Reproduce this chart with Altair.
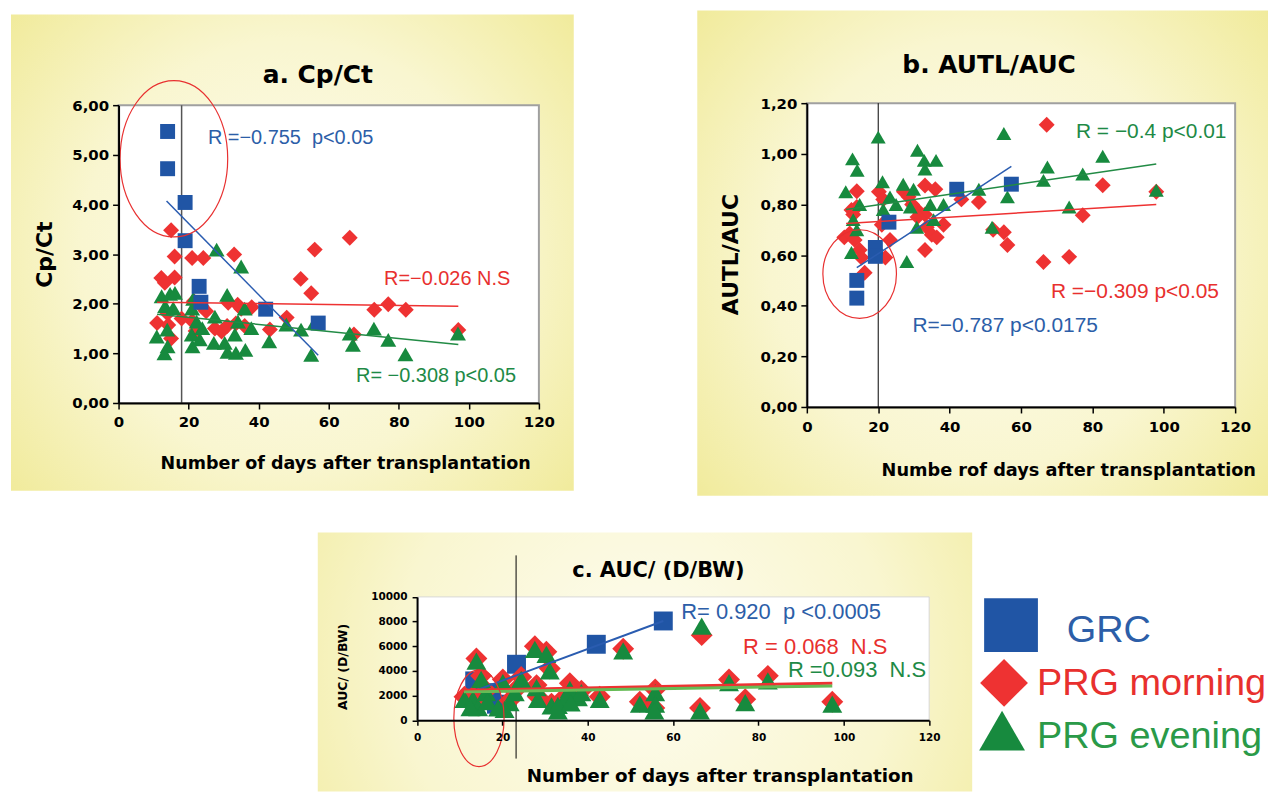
import altair as alt
import pandas as pd

FONT = "Liberation Sans"
BOLD_FONT = "DejaVu Sans"
BLUE, RED, GREEN = "#2055a5", "#ee3232", "#178a3e"
TXT_BLUE, TXT_RED, TXT_GREEN = "#2c5ea8", "#e8302e", "#1e8a46"

x_ticks = [0, 20, 40, 60, 80, 100, 120]
a_y_ticks = [0, 1, 2, 3, 4, 5, 6]
b_y_ticks = [0, 0.2, 0.4, 0.6, 0.8, 1.0, 1.2]
c_y_ticks = [0, 2000, 4000, 6000, 8000, 10000]

# ---------------- a. Cp/Ct ----------------
a_grc_x = [14, 14, 19, 19, 23, 23.5, 42, 57]
a_grc_y = [5.47, 4.72, 4.04, 3.27, 2.35, 2.03, 1.89, 1.61]
a_mor_x = [15, 16, 21, 24.2, 33, 56, 66, 52, 55, 12.2, 13.2, 16, 21.5, 23.7, 11, 14.2, 15, 21, 31.3, 34,
           38, 27.5, 29.4, 31, 33.5, 36, 43.2, 48, 67.2, 73, 77, 82, 97, 22, 25, 35, 18, 14]
a_mor_y = [3.48, 2.95, 2.92, 2.92, 2.99, 3.09, 3.33, 2.5, 2.21, 2.52, 2.42, 2.53, 2.05, 1.95, 1.61, 1.57, 1.3, 1.65, 2.02, 1.98,
           1.93, 1.5, 1.44, 1.55, 1.6, 1.55, 1.48, 1.72, 1.38, 1.88, 1.99, 1.88, 1.47, 1.45, 1.85, 1.9, 1.7, 1.8]
a_eve_x = [28, 35, 12.3, 14.7, 16.1, 21.3, 31, 13.3, 15.6, 21, 36, 10.9, 13.9, 14, 13.1, 20.9, 21.1, 23.2, 23.9, 22.3,
           27.5, 27.2, 30.3, 31.1, 33.5, 36.2, 33.2, 34.1, 37.9, 43, 47.9, 52.1, 55.9, 55, 66, 66.9, 72.9, 77, 81.9, 96.9]
a_eve_y = [3.09, 2.75, 2.15, 2.2, 2.22, 2.1, 2.18, 1.95, 1.91, 1.9, 1.9, 1.34, 1.48, 1.14, 1.0, 1.38, 1.14, 1.28, 1.51, 1.64,
           1.74, 1.21, 1.21, 1.03, 1.01, 1.07, 1.38, 1.64, 1.51, 1.24, 1.58, 1.48, 1.61, 0.97, 1.4, 1.17, 1.5, 1.27, 0.98, 1.4]
a_grc_fit_x, a_grc_fit_y = [13.7, 57], [4.07, 0.96]
a_mor_fit_x, a_mor_fit_y = [11, 97], [2.03, 1.95]
a_eve_fit_x, a_eve_fit_y = [11, 97], [1.79, 1.18]
a_notes = ["R =\u22120.755\u00a0\u00a0p<0.05", "R=\u22120.026 N.S", "R= \u22120.308 p<0.05"]
a_notes_x = [25.5, 75.8, 67.8]
a_notes_y = [5.34, 2.50, 0.54]

# ---------------- b. AUTL/AUC ----------------
b_grc_x = [14, 14, 19.2, 19.2, 23, 42, 57.3]
b_grc_y = [0.50, 0.43, 0.63, 0.595, 0.73, 0.86, 0.88]
b_mor_x = [14, 20.2, 21.4, 27.2, 28.5, 33.1, 36, 12.5, 14, 13, 30.8, 33.1, 21, 10.5, 12, 13.4, 14.8, 15.3, 22, 23.3,
           16.2, 33.6, 35, 36.4, 38.3, 33.1, 43.3, 48.2, 52.2, 55.2, 56.2, 67.2, 82.9, 97.9, 77.3, 66.3, 73.5, 31, 29.5]
b_mor_y = [0.852, 0.85, 0.82, 0.85, 0.83, 0.875, 0.86, 0.778, 0.79, 0.76, 0.78, 0.76, 0.72, 0.67, 0.685, 0.66, 0.62, 0.59, 0.59, 0.66,
           0.53, 0.71, 0.68, 0.67, 0.72, 0.62, 0.82, 0.81, 0.70, 0.69, 0.64, 1.115, 0.876, 0.85, 0.757, 0.573, 0.593, 0.75, 0.8]
b_eve_x = [20, 55.2, 31, 12.8, 14.1, 32.9, 33.1, 36.2, 10.9, 21.2, 23.3, 27, 29.9, 14.8, 34.6, 38.3, 21.4, 29, 13, 14,
           12.5, 28, 30.8, 48.2, 56.2, 51.9, 67.4, 66.3, 77.3, 82.9, 97.9, 73.5, 25, 35.5]
b_eve_y = [1.066, 1.08, 1.014, 0.98, 0.935, 0.974, 0.94, 0.974, 0.85, 0.89, 0.83, 0.88, 0.86, 0.80, 0.80, 0.80, 0.78, 0.79, 0.74, 0.70,
           0.61, 0.575, 0.71, 0.86, 0.83, 0.71, 0.948, 0.895, 0.92, 0.99, 0.856, 0.79, 0.8, 0.74]
b_grc_fit_x, b_grc_fit_y = [14, 57.3], [0.55, 0.95]
b_mor_fit_x, b_mor_fit_y = [11, 97.9], [0.725, 0.80]
b_eve_fit_x, b_eve_fit_y = [11, 97.9], [0.78, 0.96]
b_notes = ["R = \u22120.4 p<0.01", "R =\u22120.309 p<0.05", "R=\u22120.787 p<0.0175"]
b_notes_x = [75.4, 68.4, 29.6]
b_notes_y = [1.086, 0.456, 0.319]

# ---------------- c. AUC/(D/BW) ----------------
c_grc_x = [13.5, 17.4, 18.6, 23.3, 42, 57.7]
c_grc_y = [3190, 2240, 1300, 4540, 6160, 8050]
c_mor_x = [13.9, 15, 11.1, 13.1, 14.3, 16.2, 20.1, 21.7, 22.9, 24.4, 27.6, 30.3, 31.1, 28, 28.3, 31.5, 34.6, 35.8, 37.7, 38.5,
           42.8, 48.3, 52.2, 55.8, 55.6, 66.7, 66.3, 73.1, 76.9, 82.2, 97.3]
c_mor_y = [5000, 3600, 1900, 1900, 1200, 2400, 3300, 1600, 2400, 3500, 6000, 5550, 4200, 2850, 1900, 1350, 1900, 3000, 2000, 2400,
           1900, 5800, 1500, 2500, 1000, 6900, 1000, 3300, 1700, 3600, 1500]
c_eve_x = [13.9, 15, 11.1, 13.1, 14.3, 12.5, 16.2, 20.1, 21.7, 22.9, 20.5, 24.4, 27.6, 30.3, 31.1, 28, 28.3, 31.5, 33, 34.6,
           35.8, 37.7, 38.5, 42.8, 48.3, 52.2, 55.8, 55.8, 55.6, 66.7, 66.3, 73.1, 76.9, 82.2, 97.3, 16.5, 19, 33, 36]
c_eve_y = [4800, 3320, 1700, 1700, 1030, 1030, 2240, 3050, 1430, 2240, 890, 3320, 5750, 5350, 4000, 2650, 1700, 1160, 760, 1700,
           2510, 1840, 2240, 1700, 5620, 1300, 2240, 1300, 760, 7640, 760, 3050, 1430, 3190, 1300, 1500, 1000, 1200, 1400]
c_grc_fit_x, c_grc_fit_y = [13.5, 57.7], [2380, 8050]
c_mor_fit_x, c_mor_fit_y = [11, 97.3], [2430, 3000]
c_eve_fit_x, c_eve_fit_y = [11, 97.3], [2300, 2780]
c_notes = ["R= 0.920\u00a0\u00a0p <0.0005", "R = 0.068\u00a0\u00a0N.S", "R =0.093\u00a0\u00a0N.S"]
c_notes_x = [61.9, 76.4, 86.9]
c_notes_y = [8770, 5940, 4080]

legend_labels = ["GRC", "PRG morning", "PRG evening"]

# ---------------- helpers ----------------
def df(x, y):
    return pd.DataFrame({"x": x, "y": y})


def ellipse_path(r):
    return f"M {-r},0 A {r},1 0 1,0 {r},0 A {r},1 0 1,0 {-r},0 Z"


GRAD = alt.RadialGradient(
    gradient="radial", x1=0.5, y1=0.5, r1=0.0, x2=0.5, y2=0.5, r2=0.75,
    stops=[alt.GradientStop(offset=0, color="#fdfcee"),
           alt.GradientStop(offset=0.5, color="#f9f6d0"),
           alt.GradientStop(offset=1, color="#eee78a")])


def text_at(t, px, py, size, weight="bold", angle=0, color="black", align="center"):
    return alt.Chart(pd.DataFrame({"t": [t]})).mark_text(
        font=BOLD_FONT, fontSize=size, fontWeight=weight, angle=angle, color=color,
        align=align, baseline="middle").encode(x=alt.value(px), y=alt.value(py), text="t:N")


def panel(p):
    W, H = p["size"]
    xs = alt.Scale(domain=[0, 120], range=p["xrange"], nice=False, zero=False)
    ys = alt.Scale(domain=p["ydomain"], range=p["yrange"], nice=False, zero=False)
    common = dict(title=None, grid=False, zindex=2, labelFont=BOLD_FONT, labelFontSize=p["tick_fs"],
                  labelFontWeight="bold", labelColor="black", labelFlush=False, labelOverlap=False,
                  domainColor="black", domainWidth=2, tickColor="black", tickWidth=1.5,
                  tickSize=p["tick_size"])
    ax = alt.Axis(values=x_ticks, offset=p["xoff"], labelPadding=p["xpad"], format="d", **common)
    ay = alt.Axis(values=p["yticks"], offset=p["yoff"], labelPadding=p["ypad"],
                  labelExpr=p["ylabel"], **common)

    def X():
        return alt.X("x", type="quantitative", scale=xs, axis=ax)

    def Y():
        return alt.Y("y", type="quantitative", scale=ys, axis=ay)

    yl = p["yellow"]
    layers = [
        alt.Chart(pd.DataFrame({"k": [0]})).mark_rect(fill=GRAD).encode(
            x=alt.value(yl[0]), x2=alt.value(yl[1]), y=alt.value(yl[2]), y2=alt.value(yl[3])),
        alt.Chart(pd.DataFrame({"x": [0], "x2": [120], "y": [p["ydomain"][0]], "y2": [p["ydomain"][1]]}))
        .mark_rect(fill="white", stroke=p["frame"][0], strokeWidth=p["frame"][1])
        .encode(x=X(), x2="x2", y=Y(), y2="y2"),
    ]
    vx, vcol, vw, vpx = p["vline"]
    vdf = pd.DataFrame({"x": [vx], "y": [p["ydomain"][0]], "y2": [p["ydomain"][1]]})
    if vpx is None:
        layers.append(alt.Chart(vdf).mark_rule(color=vcol, strokeWidth=vw).encode(x=X(), y=Y(), y2="y2"))
    else:
        layers.append(alt.Chart(vdf).mark_rule(color=vcol, strokeWidth=vw).encode(
            x=X(), y=alt.value(vpx[0]), y2=alt.value(vpx[1])))

    for (sx, sy, shape, size, col) in p["series"]:
        layers.append(alt.Chart(df(sx, sy)).mark_point(
            shape=shape, size=size, filled=True, color=col, opacity=1, strokeWidth=0).encode(x=X(), y=Y()))
    for (fx, fy, col, w) in p["fits"]:
        layers.append(alt.Chart(df(fx, fy)).mark_line(color=col, strokeWidth=w).encode(x=X(), y=Y()))

    ex, ey, eh, er = p["ellipse"]
    layers.append(alt.Chart(df([ex], [ey])).mark_point(
        shape=ellipse_path(er), size=eh * eh, filled=False, color="#e83030", strokeWidth=1.2,
        opacity=1).encode(x=X(), y=Y()))

    nt, nx, ny = p["notes"]
    ndf = pd.DataFrame({"x": nx, "y": ny, "t": nt, "c": p["note_colors"]})
    layers.append(alt.Chart(ndf).mark_text(
        font=FONT, fontSize=p["note_fs"], align="left", baseline="middle").encode(
        x=X(), y=Y(), text="t:N", color=alt.Color("c:N", scale=None)))

    for (t, px, py, fs, ang) in p["texts"]:
        layers.append(text_at(t, px, py, fs, angle=ang))
    return alt.layer(*layers).properties(width=W, height=H)


comma2 = "replace(format(datum.value, '.2f'), '.', ',')"

A = panel(dict(
    size=(628, 507), yellow=(2, 567, 4, 482), xrange=[110, 532], ydomain=[0, 6], yrange=[394, 95],
    yticks=a_y_ticks, ylabel=comma2, xoff=394 - 507, yoff=-110, tick_fs=15, tick_size=6, xpad=6, ypad=4,
    frame=("#a0a0a0", 2), vline=(18, "#555555", 1.5, None),
    series=[(a_mor_x, a_mor_y, "diamond", 256, RED),
            (a_eve_x, a_eve_y, "triangle-up", 256, GREEN),
            (a_grc_x, a_grc_y, "square", 225, BLUE)],
    fits=[(a_grc_fit_x, a_grc_fit_y, "#2a5cb0", 1.5), (a_mor_fit_x, a_mor_fit_y, RED, 1.5),
          (a_eve_fit_x, a_eve_fit_y, "#228b45", 1.5)],
    ellipse=(15.8, 4.92, 157, 0.688),
    notes=(a_notes, a_notes_x, a_notes_y), note_colors=[TXT_BLUE, TXT_RED, TXT_GREEN], note_fs=20,
    texts=[("a. Cp/Ct", 310, 65, 25, 0), ("Cp/Ct", 36, 245, 22, 270),
           ("Number of days after transplantation", 338, 455, 17.6, 0)],
))

B = panel(dict(
    size=(634, 507), yellow=(61, 634, 0, 487), xrange=[171, 601], ydomain=[0, 1.2], yrange=[398, 93],
    yticks=b_y_ticks, ylabel=comma2, xoff=398 - 507, yoff=-171, tick_fs=15, tick_size=6, xpad=7, ypad=4,
    frame=("#a0a0a0", 2), vline=(20, "black", 1, None),
    series=[(b_mor_x, b_mor_y, "diamond", 256, RED),
            (b_eve_x, b_eve_y, "triangle-up", 225, GREEN),
            (b_grc_x, b_grc_y, "square", 225, BLUE)],
    fits=[(b_grc_fit_x, b_grc_fit_y, "#2a5cb0", 1.5), (b_mor_fit_x, b_mor_fit_y, RED, 1.5),
          (b_eve_fit_x, b_eve_fit_y, "#228b45", 1.5)],
    ellipse=(14.8, 0.525, 89, 0.83),
    notes=(b_notes, b_notes_x, b_notes_y), note_colors=[TXT_GREEN, TXT_RED, TXT_BLUE], note_fs=21,
    texts=[("b. AUTL/AUC", 354, 55, 25, 0), ("AUTL/AUC", 95, 245, 22, 270),
           ("Numbe rof days after transplantation", 434, 462, 17.8, 0)],
))

C = panel(dict(
    size=(972, 275), yellow=(310, 967, 15, 275), xrange=[409.7, 923.8], ydomain=[0, 10000],
    yrange=[203.5, 79.7], yticks=c_y_ticks, ylabel="format(datum.value, 'd')", xoff=203.5 - 275,
    yoff=-409.7, tick_fs=10.5, tick_size=5, xpad=7, ypad=5,
    frame=("#d8d8d8", 1), vline=(23.2, "black", 1, (38, 242)),
    series=[(c_grc_x, c_grc_y, "square", 361, BLUE),
            (c_mor_x, c_mor_y, "diamond", 484, RED),
            (c_eve_x, c_eve_y, "triangle-up", 400, GREEN)],
    fits=[(c_grc_fit_x, c_grc_fit_y, "#2a5cb0", 2), (c_mor_fit_x, c_mor_fit_y, RED, 3),
          (c_eve_fit_x, c_eve_fit_y, "#66bb55", 3)],
    ellipse=(14.5, 160, 97, 0.52),
    notes=(c_notes, c_notes_x, c_notes_y), note_colors=[TXT_BLUE, TXT_RED, TXT_GREEN], note_fs=22,
    texts=[("c. AUC/ (D/BW)", 652, 54, 21, 0), ("AUC/  (D/BW)", 335, 150, 12.5, 270),
           ("Number of days after transplantation", 714, 260, 18.4, 0)],
))

# ---------------- legend cell ----------------
leg_colors = [BLUE, RED, GREEN]
leg_text_colors = [TXT_BLUE, TXT_RED, "#2a9a48"]
leg_shapes = ["square", "diamond", "triangle-up"]
leg_sizes = [2916, 2304, 2116]
leg_sym_pos = [(31, 108), (24, 166), (22, 214)]
leg_txt_pos = [(87, 125), (57, 178), (57, 231)]
leg_layers = []
for i, lab in enumerate(legend_labels):
    d = pd.DataFrame({"t": [lab]})
    leg_layers.append(alt.Chart(d).mark_point(
        shape=leg_shapes[i], size=leg_sizes[i], filled=True, color=leg_colors[i], opacity=1, strokeWidth=0)
        .encode(x=alt.value(leg_sym_pos[i][0]), y=alt.value(leg_sym_pos[i][1])))
    leg_layers.append(alt.Chart(d).mark_text(
        font=FONT, fontSize=38, align="left", baseline="alphabetic", color=leg_text_colors[i])
        .encode(x=alt.value(leg_txt_pos[i][0]), y=alt.value(leg_txt_pos[i][1]), text="t:N"))
L = alt.layer(*leg_layers).properties(width=290, height=275)

chart = alt.vconcat(
    alt.hconcat(A, B, spacing=0),
    alt.hconcat(C, L, spacing=0),
    spacing=0,
).properties(padding=0, background="white").configure_view(stroke="transparent")

chart.save("out.html", embed_options={"renderer": "svg", "actions": False})
